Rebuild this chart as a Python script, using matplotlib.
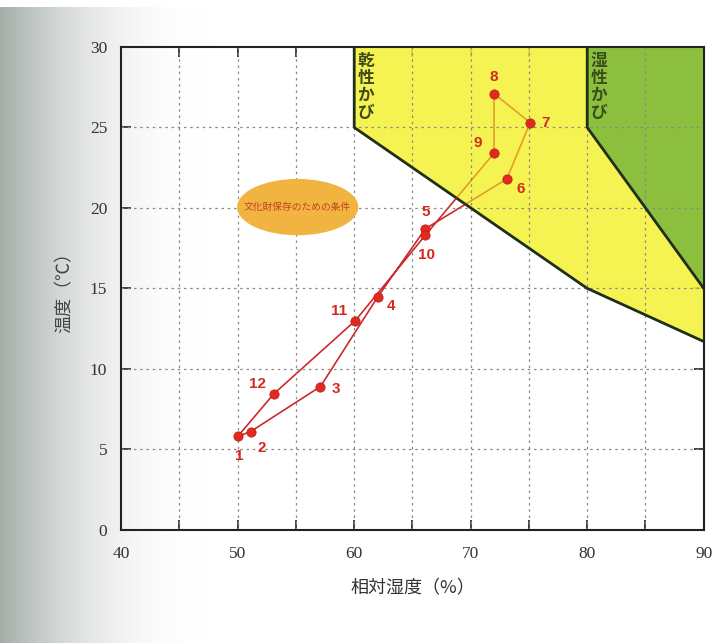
import numpy as np
import matplotlib
matplotlib.use("Agg")
import matplotlib.pyplot as plt
from matplotlib.patches import Polygon, Ellipse

# ---- data ----
months = ["1", "2", "3", "4", "5", "6", "7", "8", "9", "10", "11", "12"]
humidity = [50.0, 51.1, 57.1, 62.0, 66.1, 73.1, 75.1, 72.0, 72.0, 66.1, 60.1, 53.1]
temperature = [5.8, 6.1, 8.9, 14.45, 18.7, 21.8, 25.3, 27.1, 23.4, 18.3, 13.0, 8.45]
label_offsets = [(1, -14), (8, -12), (11, -2), (10, -6), (0, 12), (10, -7),
                 (11, 0), (0, 12), (-12, 7), (1, -14), (-12, 7), (-12, 7)]

dry_mold_x = [60, 60, 80, 90, 90]
dry_mold_y = [30, 25, 15, 11.7, 30]
wet_mold_x = [80, 80, 90, 90]
wet_mold_y = [30, 25, 15, 30]

x_major = [40, 50, 60, 70, 80, 90]
x_minor = [45, 55, 65, 75, 85]
y_ticks = [0, 5, 10, 15, 20, 25, 30]

cjk = ["Noto Sans CJK JP", "DejaVu Sans"]
serif = ["Liberation Serif", "DejaVu Serif"]

fig = plt.figure(figsize=(7.13, 6.43), dpi=100)

# photo-like grey gradient on left
bg = fig.add_axes([0, 0, 1, 1], zorder=-10)
W, H = 713, 643
px = np.arange(W)
t = np.clip(px / 210.0, 0, 1)
fade = (1 - t) ** 2.2
edge = np.array([164, 173, 168]) / 255.0
row = 1 - fade[:, None] * (1 - edge[None, :])
img = np.tile(row[None, :, :], (H, 1, 1))
img[:7, :, :] = 1.0
bg.imshow(img, aspect="auto", extent=[0, 1, 0, 1])
bg.axis("off")

ax = fig.add_axes([0.170, 0.176, 0.817, 0.751])
ax.set_xlim(40, 90)
ax.set_ylim(0, 30)
ax.patch.set_alpha(0.0)

# regions
ax.add_patch(Polygon(list(zip(dry_mold_x, dry_mold_y)), closed=True,
                     facecolor="#f4f232", edgecolor="none", zorder=2, alpha=0.85))
ax.add_patch(Polygon(list(zip(wet_mold_x, wet_mold_y)), closed=True,
                     facecolor="#8dbf3e", edgecolor="none", zorder=2.1))
ax.plot(dry_mold_x[:4], dry_mold_y[:4], color="#1f2f18", lw=2, zorder=3)
ax.plot(wet_mold_x[:3], wet_mold_y[:3], color="#1f2f18", lw=2, zorder=3)

# grid
for gxv in x_major[1:-1] + x_minor:
    ax.axvline(gxv, color="#8a8a8a", lw=0.9, ls=(0, (2, 3)), zorder=2.5)
for gyv in y_ticks[1:-1]:
    ax.axhline(gyv, color="#8a8a8a", lw=0.9, ls=(0, (2, 3)), zorder=2.5)

# conservation ellipse
ax.add_patch(Ellipse((55.15, 20.05), 10.4, 3.5, facecolor="#f2b441",
                     edgecolor="none", zorder=3))
ax.text(55.15, 20.05, "文化財保存のための条件", ha="center", va="center",
        fontsize=7, color="#c0441c", family=cjk, zorder=4)

# mold labels
ax.text(61.0, 29.7, "乾\n性\nか\nび", ha="center", va="top", fontsize=12,
        fontweight="bold", color="#3e4a1a", family=cjk, linespacing=0.95, zorder=4)
ax.text(81.0, 29.7, "湿\n性\nか\nび", ha="center", va="top", fontsize=12,
        fontweight="bold", color="#3a4e1c", family=cjk, linespacing=0.95, zorder=4)

# seasonal loop
lx = humidity + [humidity[0]]
ly = temperature + [temperature[0]]
ax.plot(lx, ly, color="#cc2a2a", lw=1.1, zorder=1.9)
ax.plot(lx, ly, color="#cc2a2a", lw=1.1, zorder=4, alpha=0.35)
ax.scatter(humidity, temperature, s=45, color="#e02a20", edgecolor="#c01818",
           lw=0.5, zorder=5)
for m, hx, ty, off in zip(months, humidity, temperature, label_offsets):
    ax.annotate(m, (hx, ty), xytext=off, textcoords="offset points",
                ha="center", va="center", fontsize=11, fontweight="bold",
                color="#d42a1e", family=["Liberation Sans", "DejaVu Sans"], zorder=6)

# ticks
ax.set_xticks(x_major)
ax.set_xticks(x_minor, minor=True)
ax.set_yticks(y_ticks)
ax.tick_params(axis="both", which="both", direction="in", top=True, right=True,
               length=7, width=1.2, color="#222222")
ax.tick_params(axis="x", which="major", pad=12)
ax.tick_params(axis="y", which="major", pad=10)
for lab in ax.get_xticklabels() + ax.get_yticklabels():
    lab.set_family(serif)
    lab.set_fontsize(12.5)
    lab.set_color("#333333")
for sp in ax.spines.values():
    sp.set_linewidth(1.5)
    sp.set_color("#222222")
    sp.set_zorder(7)

ax.set_xlabel("相対湿度（%）", family=cjk, fontsize=13, color="#333333", labelpad=12)
ax.set_ylabel("温度（℃）", family=cjk, fontsize=13, color="#444444", labelpad=12)

fig.savefig("out.png", dpi=100)
